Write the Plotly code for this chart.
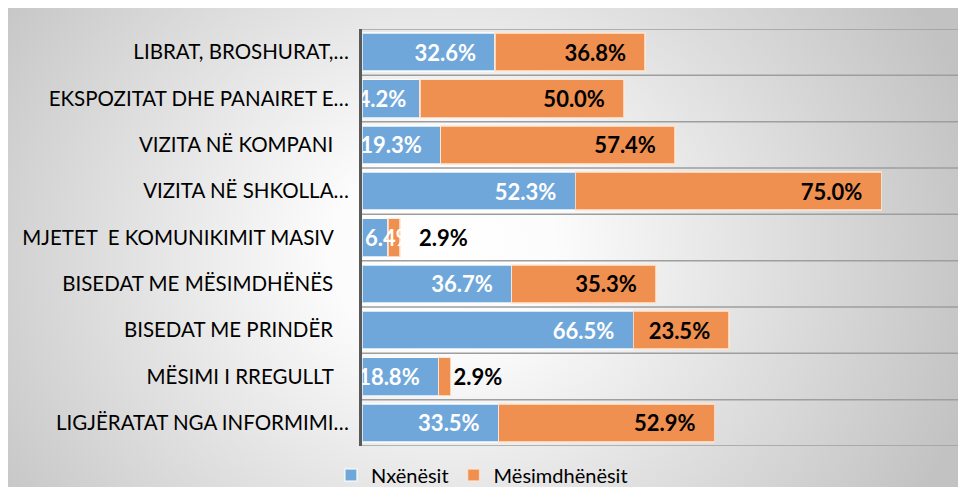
import base64
import plotly.graph_objects as go

categories = [
    "LIBRAT, BROSHURAT,…",
    "EKSPOZITAT DHE PANAIRET E…",
    "VIZITA NË KOMPANI   ",
    "VIZITA NË SHKOLLA…",
    "MJETET  E KOMUNIKIMIT MASIV   ",
    "BISEDAT ME MËSIMDHËNËS   ",
    "BISEDAT ME PRINDËR   ",
    "MËSIMI I RREGULLT   ",
    "LIGJËRATAT NGA INFORMIMI…",
]
nxenesit = [32.6, 14.2, 19.3, 52.3, 6.4, 36.7, 66.5, 18.8, 33.5]
mesimdhenesit = [36.8, 50.0, 57.4, 75.0, 2.9, 35.3, 23.5, 2.9, 52.9]
series_names = ["Nxënësit", "Mësimdhënësit"]

# label styling (number of padding spaces), per point
blue_pad = [3, 2, 3, 3, 0, 3, 3, 3, 3]
orange_pad = [3, 3, 3, 3, 3, 3, 3, 0, 3]

W, H = 966, 487
ML, MR, MT, MB = 354, 0, 21, 49

blue = "#70A7DB"
orange = "#EF8F50"
FONT = "Lato"
NB = "\u00a0"

idx = list(range(len(categories)))
ticktext = [c.replace(" ", NB) if c.endswith(" ") else c for c in categories]

# very short blue bars get their label from the axis start (as in the source)
short_blue = [v < 10 for v in nxenesit]

fig = go.Figure()
fig.add_trace(go.Bar(
    y=idx, x=nxenesit, orientation="h", name=series_names[0],
    marker=dict(color=blue, line=dict(color="rgba(255,255,255,0.7)", width=1.5)),
    texttemplate=["" if s else "%{x:.1f}%" + NB * p for p, s in zip(blue_pad, short_blue)],
    textposition="inside", insidetextanchor="end", textangle=0,
    textfont=dict(color="white", size=22, family=FONT, weight="bold"),
    constraintext="none", cliponaxis=True,
))
pos = ["outside" if v < 5 else "inside" for v in mesimdhenesit]
tmpl = [(NB * p + "%{x:.1f}%") if v < 5 else ("%{x:.1f}%" + NB * p)
        for v, p in zip(mesimdhenesit, orange_pad)]
fig.add_trace(go.Bar(
    y=idx, x=mesimdhenesit, orientation="h", name=series_names[1],
    marker=dict(color=orange, line=dict(color="rgba(255,230,210,0.8)", width=1.5)),
    texttemplate=tmpl, textposition=pos, insidetextanchor="end", textangle=0,
    textfont=dict(color="black", size=22, family=FONT, weight="bold"),
    constraintext="none", cliponaxis=False,
))

for i, (v, s) in enumerate(zip(nxenesit, short_blue)):
    if s:
        fig.add_annotation(x=0, y=i, xref="x", yref="y", text=f"{v:.1f}%", showarrow=False,
                           xanchor="left", yanchor="middle", xshift=1,
                           font=dict(color="white", size=22, family=FONT, weight="bold"))

svg = (
    '<svg xmlns="http://www.w3.org/2000/svg" width="966" height="487" viewBox="0 0 1 1" preserveAspectRatio="none">'
    '<defs><radialGradient id="g" cx="0.45" cy="0.5" r="0.5" '
    'gradientTransform="translate(0.45 0.5) scale(1.15 2) translate(-0.45 -0.5)">'
    '<stop offset="0" stop-color="#ffffff"/><stop offset="0.2" stop-color="#fcfcfc"/>'
    '<stop offset="1" stop-color="#c2c2c2"/></radialGradient></defs>'
    '<rect x="0" y="0" width="1" height="1" fill="url(#g)"/></svg>'
)
src = "data:image/svg+xml;base64," + base64.b64encode(svg.encode()).decode()
pw, ph = W - ML - MR, H - MT - MB
fig.add_layout_image(dict(
    source=src, xref="paper", yref="paper",
    x=-ML / pw, y=(H - MB) / ph,
    sizex=W / pw, sizey=H / ph,
    xanchor="left", yanchor="top", sizing="stretch", layer="below",
))

# category separator lines (between categories)
for b in [i - 0.5 for i in range(len(categories) + 1)]:
    fig.add_shape(type="line", xref="paper", x0=0, x1=1, yref="y", y0=b, y1=b,
                  line=dict(color="#9e9e9e", width=1.5), layer="below")

fig.update_layout(
    template="none",
    width=W, height=H,
    margin=dict(l=ML, r=MR, t=MT, b=MB, autoexpand=False),
    barmode="stack", bargap=0.18,
    paper_bgcolor="white", plot_bgcolor="rgba(0,0,0,0)",
    font=dict(family=FONT, size=20.5, color="black"),
    uniformtext=dict(minsize=22, mode="show"),
    showlegend=True,
    legend=dict(orientation="h", x=0.196, xanchor="center", y=-(467 - (H - MB)) / ph, yanchor="middle",
                font=dict(size=20), bgcolor="rgba(0,0,0,0)", itemwidth=30, traceorder="normal"),
    xaxis=dict(range=[0, 150], showgrid=False, zeroline=False, showticklabels=False,
               showline=False, ticks="", automargin=False),
    yaxis=dict(range=[len(categories) - 0.5, -0.5], tickmode="array", tickvals=idx, ticktext=ticktext,
               showgrid=False, zeroline=False,
               showline=True, linecolor="#5a5a5a", linewidth=3, layer="above traces",
               ticks="", ticklabelstandoff=6, tickfont=dict(size=20.5), automargin=False),
)

fig.write_html("out.html")
